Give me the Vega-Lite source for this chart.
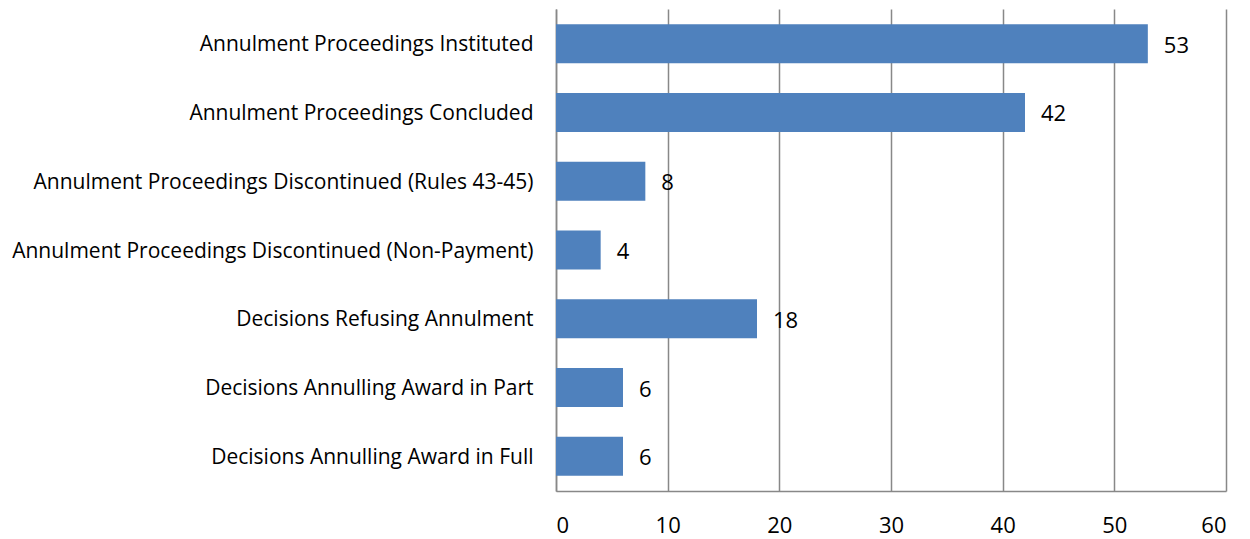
{
  "$schema": "https://vega.github.io/schema/vega-lite/v6.json",
  "width": 670,
  "height": 482,
  "autosize": "none",
  "padding": {"left": 556, "top": 9, "right": 24, "bottom": 48},
  "background": "white",
  "config": {"view": {"stroke": null}, "font": "Open Sans"},
  "data": {"values": [
    {"category": "Annulment Proceedings Instituted", "value": 53},
    {"category": "Annulment Proceedings Concluded", "value": 42},
    {"category": "Annulment Proceedings Discontinued (Rules 43-45)", "value": 8},
    {"category": "Annulment Proceedings Discontinued (Non-Payment)", "value": 4},
    {"category": "Decisions Refusing Annulment", "value": 18},
    {"category": "Decisions Annulling Award in Part", "value": 6},
    {"category": "Decisions Annulling Award in Full", "value": 6}
  ]},
  "encoding": {
    "y": {"field": "category", "type": "nominal", "sort": null,
      "scale": {"paddingInner": 0.43, "paddingOuter": 0.22},
      "axis": {"title": null, "ticks": false, "grid": false, "domainColor": "#888888", "domainWidth": 1.5,
        "labelFont": "Open Sans", "labelFontSize": 21, "labelColor": "#000000", "labelPadding": 23, "labelOffset": 1.5, "labelLimit": 600}},
    "x": {"field": "value", "type": "quantitative",
      "scale": {"domain": [0, 60], "nice": false},
      "axis": {"title": null, "values": [0, 10, 20, 30, 40, 50, 60], "ticks": false, "grid": true,
        "gridColor": "#888888", "gridWidth": 1.5, "domainColor": "#888888", "domainWidth": 1.5,
        "labelFont": "Open Sans", "labelFontSize": 22, "labelColor": "#000000", "labelPadding": 24}}
  },
  "layer": [
    {"mark": {"type": "bar", "color": "#4F81BD"}},
    {"mark": {"type": "text", "align": "left", "dx": 16, "dy": 2, "fontSize": 22, "font": "Open Sans", "color": "#000000"},
      "encoding": {"text": {"field": "value", "type": "quantitative"}}}
  ]
}
